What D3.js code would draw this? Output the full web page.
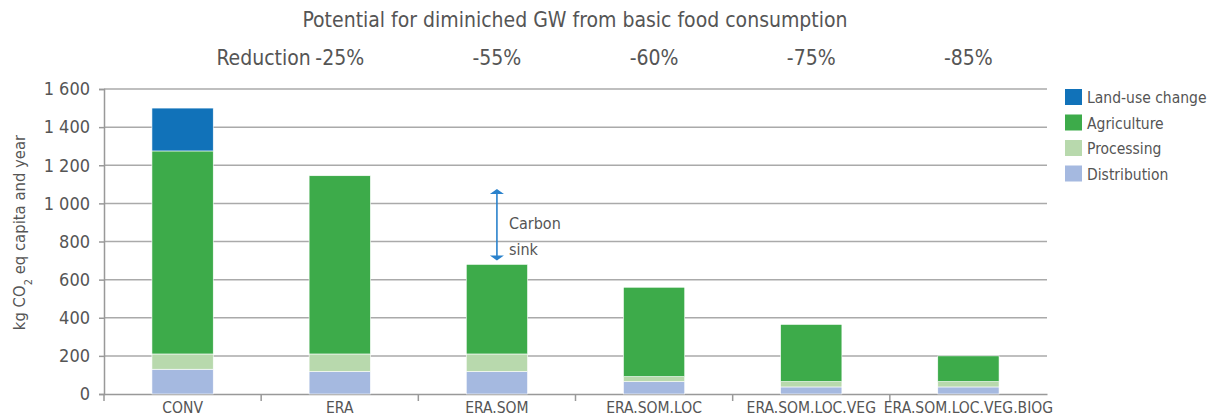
<!DOCTYPE html>
<html lang="en">
<head>
<meta charset="UTF-8">
<title>Potential for diminiched GW</title>
<script src="https://d3js.org/d3.v7.min.js"></script>
<style>
  body { margin: 0; background: #fff; }
  text { font-family: "Liberation Sans Narrow", "DejaVu Sans Condensed", "Roboto", sans-serif; fill: #555; }
</style>
</head>
<body>
<div id="chart"></div>
<script>
// data
var categories = ["CONV", "ERA", "ERA.SOM", "ERA.SOM.LOC", "ERA.SOM.LOC.VEG", "ERA.SOM.LOC.VEG.BIOG"]
var distribution = [130, 118, 118, 65, 37, 37]
var processing   = [80, 92, 92, 26, 28, 28]
var agriculture  = [1065, 935, 470, 469, 300, 135]
var landUse      = [225, 0, 0, 0, 0, 0]
var reductions   = ["", "-25%", "-55%", "-60%", "-75%", "-85%"]
var seriesNames  = ["Distribution", "Processing", "Agriculture", "Land-use change"]
var yTicks = [0, 200, 400, 600, 800, 1000, 1200, 1400, 1600]
var carbonSink = [700, 1075] // arrow on ERA.SOM

var width = 1219, height = 419
var margin = {top: 89, bottom: 25, left: 104, right: 172}

var colors = {
  "Land-use change": "#1172b9",
  "Agriculture": "#3dab4a",
  "Processing": "#b8d9ad",
  "Distribution": "#a5b9e0"
}

var svg = d3.select("#chart").append("svg")
  .attr("width", width)
  .attr("height", height)

var x = d3.scaleBand()
  .domain(categories)
  .range([margin.left, width - margin.right])
  .paddingInner(0.61)
  .paddingOuter(0.305)

var xb = d3.scaleBand()  // bands for the ticks between categories
  .domain(categories)
  .range([margin.left, width - margin.right])

var y = d3.scaleLinear()
  .domain([0, 1600])
  .range([height - margin.bottom, margin.top])

// gridlines
svg.append("g")
  .selectAll("line")
  .data(yTicks.slice(1))
  .enter().append("line")
  .attr("x1", margin.left)
  .attr("x2", width - margin.right)
  .attr("y1", d => y(d))
  .attr("y2", d => y(d))
  .attr("stroke", "#aaa")
  .attr("stroke-width", 1.5)

// y axis
var yAxis = d3.axisLeft(y)
  .tickValues(yTicks)
  .tickSize(5)
  .tickPadding(9)
  .tickFormat(d => d3.format(",")(d).replace(",", " "))

var gy = svg.append("g")
  .attr("transform", "translate(" + margin.left + ",0)")
  .call(yAxis)
gy.select(".domain").attr("stroke", "#999").attr("stroke-width", 1.5)
gy.selectAll(".tick line").attr("stroke", "#999").attr("stroke-width", 1.5)
gy.selectAll("text").style("font-size", "18px")

// x axis
var xAxis = d3.axisBottom(xb).tickSize(0).tickPadding(8)
var gx = svg.append("g")
  .attr("transform", "translate(0," + y(0) + ")")
  .call(xAxis)
gx.select(".domain").attr("stroke", "#999").attr("stroke-width", 1.5)
gx.selectAll("text").style("font-size", "15.5px")
// tick marks between the categories
gx.selectAll("line.sep")
  .data(categories.slice(1))
  .enter().append("line")
  .attr("class", "sep")
  .attr("x1", d => xb(d)).attr("x2", d => xb(d))
  .attr("y1", 0).attr("y2", 7)
  .attr("stroke", "#999").attr("stroke-width", 1.5)
gx.append("line")
  .attr("x1", margin.left).attr("x2", margin.left)
  .attr("y1", 0).attr("y2", 7)
  .attr("stroke", "#999").attr("stroke-width", 1.5)

// stacked bars
var rows = categories.map(function (c, i) {
  return {cat: c, "Distribution": distribution[i], "Processing": processing[i],
          "Agriculture": agriculture[i], "Land-use change": landUse[i]}
})
var stack = d3.stack().keys(seriesNames)(rows)

svg.append("g")
  .selectAll("g")
  .data(stack)
  .enter().append("g")
  .attr("fill", d => colors[d.key])
  .selectAll("rect")
  .data(d => d.filter(p => p[1] > p[0]))
  .enter().append("rect")
  .attr("x", d => x(d.data.cat))
  .attr("width", x.bandwidth())
  .attr("y", d => y(d[1]))
  .attr("height", d => y(d[0]) - y(d[1]))
  .attr("stroke", "#fff")
  .attr("stroke-width", 0.6)

// carbon sink arrow
var ax = x("ERA.SOM") + x.bandwidth() / 2
svg.append("line")
  .attr("x1", ax).attr("x2", ax)
  .attr("y1", y(carbonSink[1]) + 3).attr("y2", y(carbonSink[0]) - 3)
  .attr("stroke", "#2a82cc").attr("stroke-width", 1.6)
svg.append("path")
  .attr("d", "M" + (ax - 7) + "," + (y(carbonSink[1]) + 5) + "L" + ax + "," + y(carbonSink[1]) + "L" + (ax + 7) + "," + (y(carbonSink[1]) + 5) + "Z")
  .attr("fill", "#2a82cc")
svg.append("path")
  .attr("d", "M" + (ax - 7) + "," + (y(carbonSink[0]) - 5) + "L" + ax + "," + y(carbonSink[0]) + "L" + (ax + 7) + "," + (y(carbonSink[0]) - 5) + "Z")
  .attr("fill", "#2a82cc")
svg.append("text").attr("x", ax + 12).attr("y", 229).style("font-size", "16px").text("Carbon")
svg.append("text").attr("x", ax + 12).attr("y", 255).style("font-size", "16px").text("sink")

// title
svg.append("text")
  .attr("x", 575).attr("y", 27)
  .attr("text-anchor", "middle")
  .style("font-size", "21px")
  .text("Potential for diminiched GW from basic food consumption")

// reduction labels
svg.append("g")
  .selectAll("text")
  .data(categories.filter((c, i) => reductions[i] !== ""))
  .enter().append("text")
  .attr("x", d => xb(d) + xb.bandwidth() / 2)
  .attr("y", 65)
  .attr("text-anchor", "middle")
  .style("font-size", "21px")
  .text(d => reductions[categories.indexOf(d)])
svg.append("text")
  .attr("y", 65)
  .attr("x", xb("ERA") + xb.bandwidth() / 2 - 29)
  .attr("text-anchor", "end")
  .style("font-size", "21px")
  .text("Reduction")

// y axis title
svg.append("text")
  .attr("transform", "translate(25," + (y(800) - 9) + ") rotate(-90)")
  .attr("text-anchor", "middle")
  .style("font-size", "16.5px")
  .html("kg CO<tspan baseline-shift='sub' font-size='11px'>2</tspan> eq capita and year")

// legend
var legend = svg.append("g")
  .selectAll("g")
  .data(seriesNames.slice().reverse())
  .enter().append("g")
  .attr("transform", (d, i) => "translate(1065," + (89 + i * 25.5) + ")")
legend.append("rect")
  .attr("width", 17).attr("height", 16)
  .attr("fill", d => colors[d])
legend.append("text")
  .attr("x", 22).attr("y", 14)
  .style("font-size", "15.5px")
  .text(d => d)
</script>
</body>
</html>
